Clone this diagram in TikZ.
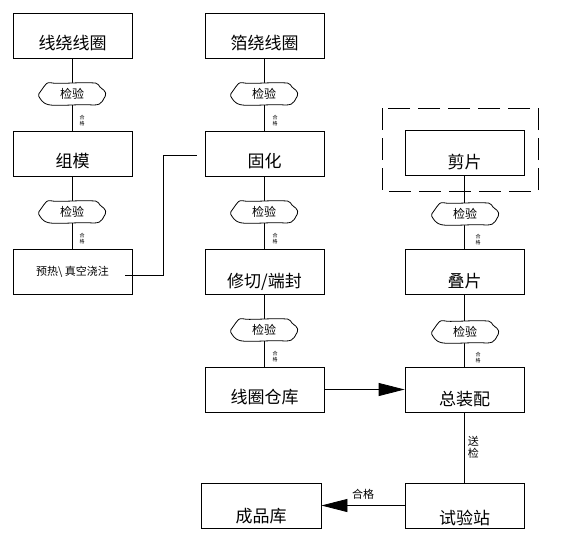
\documentclass[tikz,border=0pt]{standalone}
\usepackage{fontspec}
\newfontfamily\cjk{Noto Sans CJK SC}
\usetikzlibrary{arrows.meta}
\newcommand\chkat[2]{%
  \draw[cloudline,shift={(#2)}] (-34,1) -- (-29,-6)
    .. controls (-27,-9) and (-25,-12) .. (-20,-11)
    .. controls (-10,-10) and (10,-12) .. (22,-11)
    .. controls (26,-11) and (27,-8) .. (29,-6)
    -- (33,-3) -- (34,1) -- (31,6)
    .. controls (29,10) and (26,11) .. (20,11)
    .. controls (10,10) and (-10,12) .. (-22,11)
    .. controls (-27,10) and (-29,8) .. (-31,6) -- cycle;
  \node[chk] (#1) at (#2) {检验};}
\begin{document}
\begin{tikzpicture}[x=1pt,y=-1pt,
  box/.style={draw,thick,minimum width=119pt,minimum height=45pt,inner sep=0pt},
  lbl/.style={font=\cjk\fontsize{17}{17}\selectfont,inner sep=0pt},
  cloudline/.style={thick,fill=white,rounded corners=1.5pt},
  chk/.style={inner sep=0pt,font=\cjk\fontsize{12}{12}\selectfont},
  ok/.style={font=\cjk\fontsize{5}{6}\selectfont,align=center,inner sep=0pt},
  ln/.style={thick},
  big/.style={thick,-{Triangle[length=26pt,width=13pt]}}]
\useasboundingbox (0,0) rectangle (576,544);
% boxes
\node[box] (a1) at (72.5,35.5) {};
\node[lbl] (a1t) at (72.5,43) {线绕线圈};
\node[box] (a2) at (72.5,153.5) {};
\node[lbl] (a2t) at (72.5,161) {组模};
\node[box] (a3) at (72.5,271.5) {};
\node[lbl,font=\cjk\fontsize{11}{11}\selectfont] (a3t) at (72.5,272) {预热\textbackslash\ 真空浇注};
\node[box] (b1) at (264.5,35.5) {};
\node[lbl] (b1t) at (264.5,43) {箔绕线圈};
\node[box] (b2) at (264.5,153.5) {};
\node[lbl] (b2t) at (264.5,161) {固化};
\node[box] (b3) at (264.5,271.5) {};
\node[lbl] (b3t) at (264.5,282) {修切/端封};
\node[box] (b4) at (264.5,389.5) {};
\node[lbl] (b4t) at (264.5,397) {线圈仓库};
\node[box] (c1) at (464.5,153) {};
\node[lbl] (c1t) at (464.5,162) {剪片};
\draw[thick,dash pattern=on 22pt off 8pt] (382,108) rectangle (538,191);
\node[box] (c2) at (464.5,271.5) {};
\node[lbl] (c2t) at (464.5,281) {叠片};
\node[box] (c3) at (464.5,389.5) {};
\node[lbl] (c3t) at (464.5,399) {总装配};
\node[box] (c4) at (464.5,505.5) {};
\node[lbl] (c4t) at (464.5,518) {试验站};
\node[box,minimum width=120pt] (d1) at (261,505.5) {};
\node[lbl] (d1t) at (261,516) {成品库};
% vertical lines
\draw[ln] (a1.south) -- (a2.north);
\draw[ln] (a2.south) -- (a3.north);
\draw[ln] (b1.south) -- (b2.north);
\draw[ln] (b2.south) -- (b3.north);
\draw[ln] (b3.south) -- (b4.north);
\draw[ln] (c1.south) -- (c2.north);
\draw[ln] (c2.south) -- (c3.north);
\draw[ln] (c3.south) -- node[right=3pt,font=\cjk\fontsize{11}{12}\selectfont,align=center,inner sep=0pt] (s1) {送\\检} (c4.north);
% checks
\chkat{k1}{72,94}
\chkat{k2}{72,212}
\chkat{k3}{264,94}
\chkat{k4}{264,212}
\chkat{k5}{264,330}
\chkat{k6}{465,214}
\chkat{k7}{465,332}
\node[ok] (o1) at (82,121) {合\\格};
\node[ok] (o2) at (82,239) {合\\格};
\node[ok] (o3) at (275,121) {合\\格};
\node[ok] (o4) at (275,239) {合\\格};
\node[ok] (o5) at (275,357) {合\\格};
\node[ok] (o6) at (478,240) {合\\格};
\node[ok] (o7) at (478,358) {合\\格};
% other connectors
\coordinate (e0) at (125,275);
\coordinate (e1) at (197,155);
\draw[ln] (e0) -| (163,155) -- (e1);
\draw[big] (b4.east) -- (c3.west);
\draw[big] (c4.west) -- node[above=2pt,font=\cjk\fontsize{11}{11}\selectfont] (h1) {合格} (d1.east);
\end{tikzpicture}
\end{document}
